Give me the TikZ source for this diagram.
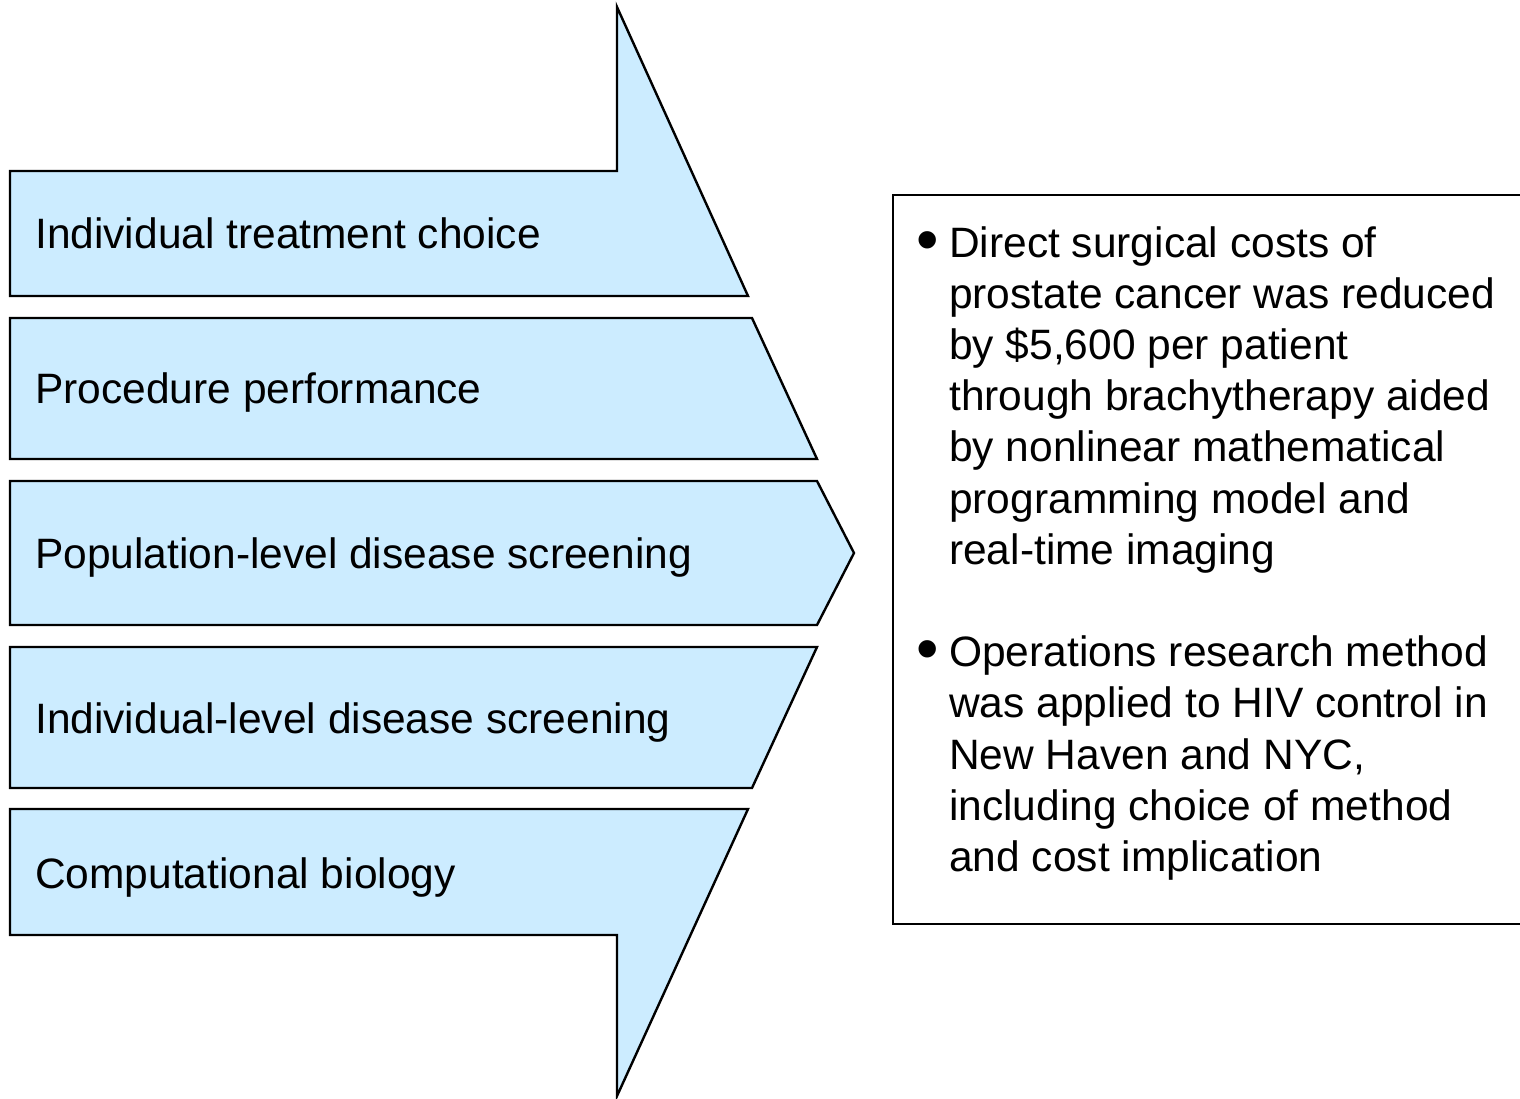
\documentclass[tikz,border=0pt]{standalone}
\usepackage{fontspec}
\setmainfont{Liberation Sans}
\definecolor{bandfill}{RGB}{204,236,255}
\newcommand{\notebullet}{\leavevmode\llap{\raisebox{-4pt}{\fontsize{64}{64}\selectfont •}\hspace{10pt}}}
\begin{document}
\begin{tikzpicture}[x=1pt,y=-1pt,
  band/.style={draw=black, line width=2.4pt, fill=bandfill},
  bandlabel/.style={anchor=base west, inner sep=0pt, font=\fontsize{42.5}{51.2}\selectfont},
  framebox/.style={draw=black, line width=2.4pt}]
\useasboundingbox (0,0) rectangle (1520,1098);

% the five bands that together form one large arrow
\draw[band] (10,171) -- (617,171) -- (617,7) -- (748,296) -- (10,296) -- cycle;
\draw[band] (10,318) -- (752,318) -- (817,459) -- (10,459) -- cycle;
\draw[band] (10,481) -- (817,481) -- (854,553) -- (817,625) -- (10,625) -- cycle;
\draw[band] (10,647) -- (817,647) -- (752,788) -- (10,788) -- cycle;
\draw[band] (10,809) -- (748,809) -- (617,1096) -- (617,935) -- (10,935) -- cycle;

\node[bandlabel] (b1) at (35,248) {Individual treatment choice};
\node[bandlabel] (b2) at (35,403) {Procedure performance};
\node[bandlabel] (b3) at (35,568) {Population-level disease screening};
\node[bandlabel] (b4) at (35,733) {Individual-level disease screening};
\node[bandlabel] (b5) at (35,888) {Computational biology};

% box with the two examples, running off the right edge
\draw[framebox] (1524,195) -- (893,195) -- (893,924) -- (1524,924);
\node[anchor=base west, inner sep=0pt] (notes) at (949,257) {\parbox[t]{560pt}{\raggedright\fontsize{42.5}{51.2}\selectfont
\notebullet Direct surgical costs of\\
prostate cancer was reduced\\
by \$5,600 per patient\\
through brachytherapy aided\\
by nonlinear mathematical\\
programming model and\\
real-time imaging\\
\mbox{}\\
\notebullet Operations research method\\
was applied to HIV control in\\
New Haven and NYC,\\
including choice of method\\
and cost implication}};
\end{tikzpicture}
\end{document}
